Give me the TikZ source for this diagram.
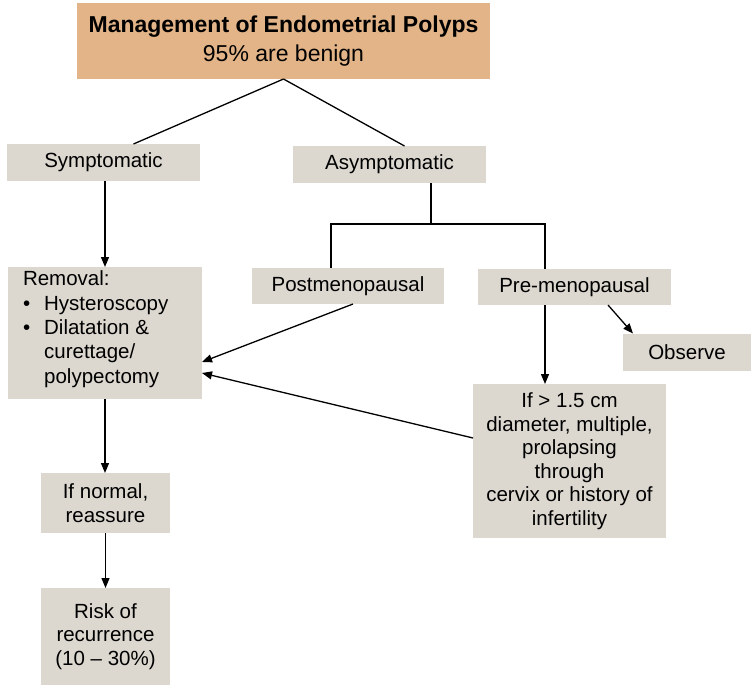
\documentclass[tikz,border=0pt]{standalone}
\usepackage{fontspec}
\setmainfont{Liberation Sans}
\usetikzlibrary{arrows.meta,calc}
\definecolor{boxgray}{RGB}{220,216,208}
\definecolor{headtan}{RGB}{226,180,135}
\begin{document}
\begin{tikzpicture}[x=1pt,y=-1pt,
  every node/.style={inner sep=0pt,outer sep=0pt,anchor=center},
  graybox/.style={fill=boxgray,text=black,font=\fontsize{20.5}{23.5}\selectfont},
  headbox/.style={fill=headtan,text=black,font=\fontsize{23}{29}\selectfont},
  link/.style={line width=1.3pt,draw=black},
  arr/.style={link,-{Triangle[length=10pt,width=8pt]}}]
\useasboundingbox (0,0) rectangle (751,685);

% boxes: centre, width, height
\node[headbox,minimum width=413,minimum height=76,align=center] (top) at (283.5,41)
  {\textbf{Management of Endometrial Polyps}\\95\% are benign};
\node[graybox,minimum width=193,minimum height=37] (sym) at (103.5,162.5) {Symptomatic};
\node[graybox,minimum width=193,minimum height=37] (asym) at (389.5,164.5) {Asymptomatic};
\node[graybox,minimum width=192,minimum height=36] (post) at (348,286) {Postmenopausal};
\node[graybox,minimum width=193,minimum height=36] (pre) at (574.5,287) {Pre-menopausal};
\node[graybox,minimum width=128,minimum height=37] (obs) at (687,352) {Observe};
\node[graybox,minimum width=194,minimum height=132] (rem) at (105,333) {};
\node[graybox,anchor=north west,align=left,font=\fontsize{20.5}{24.3}\selectfont] at (23,271)
  {Removal:\\
   \textbullet\hspace{14pt}Hysteroscopy\\
   \textbullet\hspace{14pt}Dilatation \&\\
   \phantom{\textbullet}\hspace{14pt}curettage/\\
   \phantom{\textbullet}\hspace{14pt}polypectomy};
\node[graybox,minimum width=193,minimum height=154,align=center] (ifb) at (569.5,461)
  {If > 1.5 cm\\diameter, multiple,\\prolapsing\\through\\cervix or history of\\infertility};
\node[graybox,minimum width=129,minimum height=60,align=center] (ifn) at (105.5,503)
  {If normal,\\reassure};
\node[graybox,minimum width=129,minimum height=97,align=center] (risk) at (105.5,636.5)
  {Risk of\\recurrence\\(10 – 30\%)};

% split from the heading box
\draw[link] (top.south) -- ($(sym.north)+(30,0)$);
\draw[link] (top.south) -- ($(asym.north)+(15,0)$);

% asymptomatic branch
\coordinate (j) at (431,224);
\coordinate (jl) at (331,224);
\coordinate (jr) at (545,224);
\draw[link] (asym.south -| j) -- (j);
\draw[link] (post.north -| jl) -- (jl) -- (jr) -- (pre.north -| jr);

% arrows
\draw[arr] (sym.south -| rem.north) -- (rem.north);
\draw[arr] ($(post.south)+(5,0)$) -- ($(rem.east)+(0,29)$);
\draw[arr] ($(ifb.west)+(0,-23)$) -- ($(rem.east)+(0,40)$);
\draw[arr] (pre.south -| jr) -- (ifb.north -| jr);
\draw[arr] ($(pre.south)+(33.5,0)$) -- ($(obs.north west)+(10,0)$);
\draw[arr] (rem.south) -- (rem.south |- ifn.north);
\draw[arr] (ifn.south) -- (risk.north);
\end{tikzpicture}
\end{document}
